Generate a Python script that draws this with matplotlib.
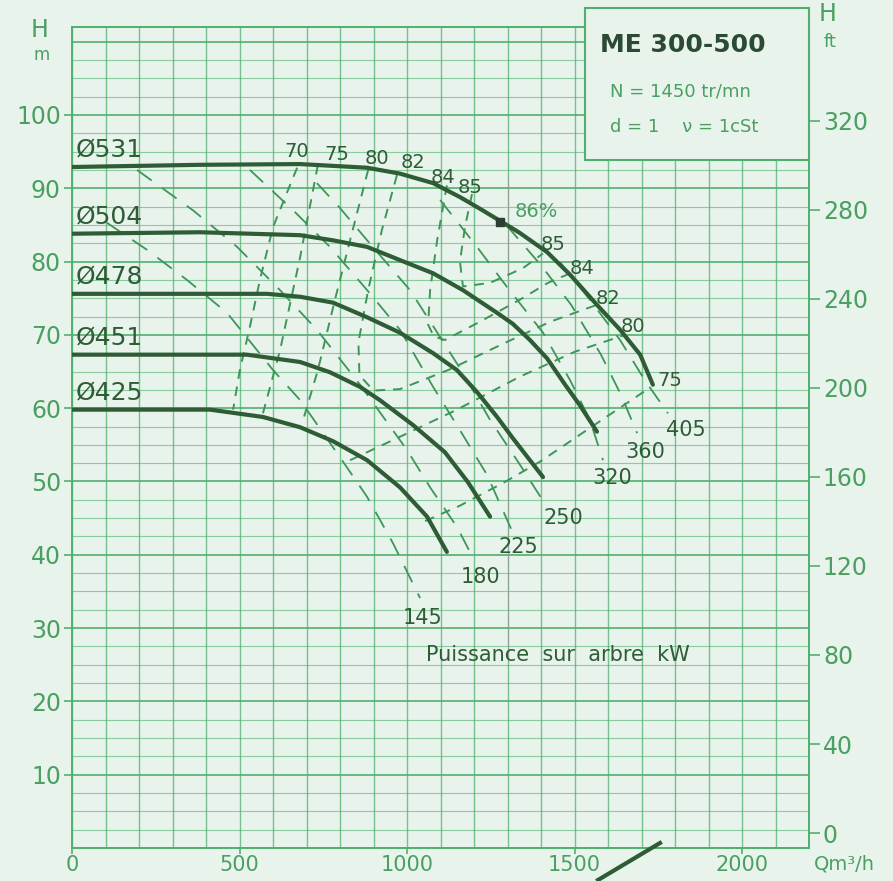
import numpy as np
import matplotlib
matplotlib.use("Agg")
import matplotlib.pyplot as plt
from matplotlib.patches import Rectangle
from matplotlib.lines import Line2D

# ---------------- data ----------------
diam_labels = ["Ø531", "Ø504", "Ø478", "Ø451", "Ø425"]

q_531 = [0, 382, 681, 881, 979, 1078, 1158, 1218, 1287, 1337, 1418, 1487, 1567, 1636, 1696, 1734]
h_531 = [92.9, 93.2, 93.3, 92.8, 92.0, 90.7, 88.8, 87.2, 85.3, 83.9, 81.3, 78.2, 74.1, 70.7, 67.3, 63.2]

q_504 = [0, 382, 681, 779, 881, 979, 1078, 1167, 1269, 1316, 1367, 1418, 1472, 1516, 1567]
h_504 = [83.8, 84.0, 83.6, 82.9, 82.0, 80.2, 78.4, 76.1, 73.0, 71.5, 69.3, 66.8, 63.2, 60.4, 56.8]

q_478 = [0, 582, 681, 779, 881, 979, 1078, 1149, 1209, 1269, 1316, 1367, 1406]
h_478 = [75.6, 75.6, 75.2, 74.4, 72.4, 70.3, 67.5, 65.2, 62.2, 58.8, 55.9, 52.9, 50.6]

q_451 = [0, 522, 681, 770, 860, 919, 1018, 1113, 1182, 1248]
h_451 = [67.3, 67.3, 66.3, 64.9, 62.9, 61.1, 57.7, 54.0, 49.9, 45.2]

q_425 = [0, 412, 570, 681, 779, 881, 979, 1060, 1119]
h_425 = [59.8, 59.8, 58.8, 57.4, 55.5, 52.9, 49.2, 45.2, 40.4]

# efficiency iso-lines (%)
eff_70_q = [672, 600, 561, 531, 501, 481]
eff_70_h = [92.8, 84.7, 77.5, 71.1, 65.2, 59.8]
eff_75a_q = [734, 681, 621, 570]
eff_75a_h = [93.2, 80.6, 67.9, 59.3]
eff_75b_q = [1054, 1158, 1287, 1397, 1546, 1725]
eff_75b_h = [44.6, 46.7, 49.8, 52.7, 57.3, 62.8]
eff_80a_q = [884, 830, 785, 734, 690]
eff_80a_h = [92.5, 82.9, 74.8, 65.2, 58.4]
eff_80b_q = [830, 979, 1149, 1337, 1501, 1651]
eff_80b_h = [52.9, 56.1, 59.8, 64.3, 67.7, 70.0]
eff_82_q = [970, 925, 884, 855, 858, 900, 979, 1128, 1278, 1428, 1567]
eff_82_h = [91.8, 84.3, 76.1, 69.0, 64.5, 62.4, 62.6, 65.3, 68.6, 71.8, 74.1]
eff_84_q = [1119, 1090, 1069, 1063, 1080, 1113, 1218, 1337, 1421, 1487]
eff_84_h = [90.4, 82.9, 76.1, 71.4, 69.8, 69.3, 71.8, 74.8, 77.1, 78.4]
eff_85_q = [1194, 1173, 1158, 1167, 1248, 1346, 1406]
eff_85_h = [89.2, 84.7, 80.0, 76.6, 77.1, 79.1, 81.1]

left_eff_labels = ["70", "75", "80", "82", "84", "85"]
right_eff_labels = ["85", "84", "82", "80", "75"]

bep_q, bep_h = 1278, 85.4

# shaft power iso-lines (kW)
power_labels = ["145", "180", "225", "250", "320", "360", "405"]
p_145_q = [104, 224, 343, 463, 600, 681, 800, 881, 958, 1039]
p_145_h = [85.3, 81.6, 77.5, 73.0, 65.2, 61.1, 53.3, 47.9, 41.6, 34.1]
p_180_q = [194, 361, 493, 621, 731, 860, 1000, 1069, 1149, 1197]
p_180_h = [92.5, 87.0, 82.0, 76.1, 70.7, 63.2, 54.3, 49.2, 43.8, 39.6]
p_225_q = [531, 660, 770, 881, 979, 1078, 1158, 1239, 1316]
p_225_h = [92.5, 87.0, 82.0, 76.1, 70.7, 62.9, 57.0, 50.9, 43.0]
p_250_q = [731, 800, 881, 1009, 1099, 1167, 1248, 1337, 1418]
p_250_h = [90.7, 87.3, 82.9, 76.1, 69.7, 64.8, 58.4, 52.3, 46.5]
p_320_q = [1099, 1209, 1299, 1406, 1487, 1546, 1585]
p_320_h = [88.4, 82.0, 76.5, 70.3, 63.8, 58.4, 52.9]
p_360_q = [1296, 1400, 1490, 1579, 1639, 1687]
p_360_h = [85.0, 79.5, 74.1, 67.3, 61.8, 56.6]
p_405_q = [1457, 1546, 1636, 1710, 1779]
p_405_h = [79.9, 74.8, 69.3, 63.8, 59.3]

x_ticks = [0, 500, 1000, 1500, 2000]
y_ticks_m = [10, 20, 30, 40, 50, 60, 70, 80, 90, 100]
y_ticks_ft = [0, 40, 80, 120, 160, 200, 240, 280, 320]

# ---------------- style ----------------
BG = "#e8f3ec"
GRID = "#4fb06e"
TEXT = "#4a9f61"
DARK = "#2e5c35"
DASH = "#3c9657"
plt.rcParams["font.family"] = ["DejaVu Sans"]

fig = plt.figure(figsize=(8.93, 8.81), dpi=100)
fig.patch.set_facecolor(BG)
ax = fig.add_axes([72 / 893, 33 / 881, 737 / 893, 821 / 881])
ax.set_facecolor(BG)
ax.set_xlim(0, 2200)
ax.set_ylim(0, 112)

# grid paper
for q in np.arange(0, 2201, 100):
    ax.axvline(q, color=GRID, lw=1.0, alpha=0.75, zorder=0)
for h in np.arange(0, 112.1, 2.5):
    major = abs(h % 10) < 1e-6
    ax.axhline(h, color=GRID, lw=1.4 if major else 0.8, alpha=0.85 if major else 0.6, zorder=0)

for sp in ax.spines.values():
    sp.set_color(GRID)
    sp.set_linewidth(1.4)

ax.set_xticks(x_ticks)
ax.set_yticks(y_ticks_m)
ax.tick_params(axis="y", direction="out", length=6, width=1.2, color=GRID,
               labelcolor=TEXT, labelsize=17, pad=2)
ax.tick_params(axis="x", direction="out", length=4, width=1.2, color=GRID,
               labelcolor=TEXT, labelsize=15, pad=1)

ax2 = ax.twinx()
ax2.set_ylim(-6.7, 362)
ax2.set_yticks(y_ticks_ft)
for sp in ax2.spines.values():
    sp.set_visible(False)
ax2.tick_params(axis="y", direction="out", length=8, width=1.2, color=GRID,
                labelcolor=TEXT, labelsize=17, pad=2)

# power lines
power_lines = [(p_145_q, p_145_h), (p_180_q, p_180_h), (p_225_q, p_225_h), (p_250_q, p_250_h),
               (p_320_q, p_320_h), (p_360_q, p_360_h), (p_405_q, p_405_h)]
for q, h in power_lines:
    ax.plot(q, h, color=DASH, lw=1.3, dashes=(10, 7), zorder=2)

power_label_pos = [(1045, 31.4), (1218, 37.0), (1331, 41.1), (1466, 45.0),
                   (1612, 50.5), (1710, 54.0), (1833, 57.0)]
for lab, (x, y) in zip(power_labels, power_label_pos):
    ax.text(x, y, lab, fontsize=15, color=DARK, ha="center", va="center", zorder=6)

# efficiency lines
eff_lines = [(eff_70_q, eff_70_h), (eff_75a_q, eff_75a_h), (eff_75b_q, eff_75b_h),
             (eff_80a_q, eff_80a_h), (eff_80b_q, eff_80b_h), (eff_82_q, eff_82_h),
             (eff_84_q, eff_84_h), (eff_85_q, eff_85_h)]
for q, h in eff_lines:
    ax.plot(q, h, color=DASH, lw=1.4, dashes=(5, 4), zorder=2)

left_eff_pos = [(672, 95.0), (791, 94.6), (910, 94.0), (1018, 93.5), (1107, 91.5), (1188, 90.1)]
for lab, (x, y) in zip(left_eff_labels, left_eff_pos):
    ax.text(x, y, lab, fontsize=14, color=DARK, ha="center", va="center", zorder=6)
right_eff_pos = [(1436, 82.3), (1522, 79.1), (1600, 75.0), (1675, 71.1), (1785, 63.8)]
for lab, (x, y) in zip(right_eff_labels, right_eff_pos):
    ax.text(x, y, lab, fontsize=14, color=DARK, ha="center", va="center", zorder=6)

ax.text(1322, 86.8, "86%", fontsize=14, color=TEXT, ha="left", va="center", zorder=6)
ax.plot([bep_q], [bep_h], marker="s", ms=6, color="#2c3f30", zorder=7)
ax.plot([1301, 1301], [25.5, 91.5], color="#8da296", lw=0.7, zorder=1)

# pump curves
curves = [(q_531, h_531), (q_504, h_504), (q_478, h_478), (q_451, h_451), (q_425, h_425)]
for lab, (q, h) in zip(diam_labels, curves):
    ax.plot(q, h, color=DARK, lw=3.0, solid_capstyle="round", solid_joinstyle="round", zorder=4)
    ax.text(12, h[0] + 2.4, lab, fontsize=18, color=DARK, ha="left", va="center", zorder=6)

ax.text(1451, 26.3, "Puissance  sur  arbre  kW", fontsize=15, color=DARK,
        ha="center", va="center", zorder=6)

# title box
box = Rectangle((0.696, 0.838), 0.304, 0.185, transform=ax.transAxes, clip_on=False,
                facecolor=BG, edgecolor=GRID, lw=1.5, zorder=8)
ax.add_patch(box)
fig.text(683 / 893, 1 - 45 / 881, "ME 300-500", fontsize=18, fontweight="bold",
         color="#2b4a33", ha="center", va="center", zorder=9)
fig.text(610 / 893, 1 - 92 / 881, "N = 1450 tr/mn", fontsize=13, color=TEXT,
         ha="left", va="center", zorder=9)
fig.text(610 / 893, 1 - 127 / 881, "d = 1    ν = 1cSt", fontsize=13, color=TEXT,
         ha="left", va="center", zorder=9)

# axis titles
fig.text(40 / 893, 1 - 30 / 881, "H", fontsize=17, color=TEXT, ha="center", va="center")
fig.text(42 / 893, 1 - 55 / 881, "m", fontsize=12, color=TEXT, ha="center", va="center")
fig.text(828 / 893, 1 - 14 / 881, "H", fontsize=17, color=TEXT, ha="center", va="center")
fig.text(830 / 893, 1 - 42 / 881, "ft", fontsize=13, color=TEXT, ha="center", va="center")
fig.text(814 / 893, 1 - 864 / 881, "Qm³/h", fontsize=14, color=TEXT, ha="left", va="center")

# pen stroke near the 1500 label
fig.add_artist(Line2D([598 / 893, 660 / 893], [1 - 880 / 881, 1 - 843 / 881],
                      color=DARK, lw=3.0))

fig.savefig("out.png", dpi=100, facecolor=BG)
